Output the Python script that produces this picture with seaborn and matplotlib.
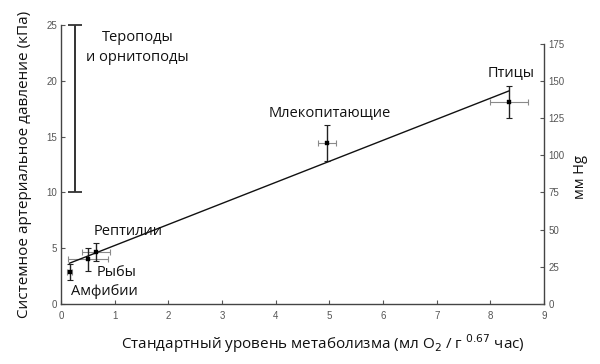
import matplotlib.pyplot as plt
import pandas as pd
import seaborn as sns

# Data (kPa vs metabolic rate)
groups = ["Амфибии", "Рыбы", "Рептилии", "Млекопитающие", "Птицы"]
metab = [0.16, 0.50, 0.66, 4.96, 8.35]
metab_err = [0.05, 0.37, 0.26, 0.17, 0.35]
pressure = [2.85, 4.0, 4.66, 14.4, 18.1]
pressure_err = [0.7, 1.0, 0.8, 1.6, 1.4]

# regression line end points
fit_x = [0.155, 8.35]
fit_y = [3.65, 19.1]

# theropods / ornithopods range
dino_x = 0.26
dino_range = [10, 25]

label_pos = {
    "Амфибии": (0.80, 1.1),
    "Рыбы": (1.04, 2.8),
    "Рептилии": (1.25, 6.5),
    "Млекопитающие": (5.0, 17.1),
    "Птицы": (8.38, 20.7),
}

x_ticks = list(range(0, 10))
y_ticks = [0, 5, 10, 15, 20, 25]
mmhg_ticks = [0, 25, 50, 75, 100, 125, 150, 175]
KPA_PER_MMHG = 0.133322

sns.set_style("ticks")
plt.rcParams["font.family"] = ["Open Sans", "DejaVu Sans"]

df = pd.DataFrame({"group": groups, "x": metab, "y": pressure})
df_fit = pd.DataFrame({"x": fit_x, "y": fit_y})

fig = plt.figure(figsize=(6, 3.64), dpi=100)
ax = fig.add_axes([0.1017, 0.1648, 0.805, 0.7665])

# horizontal error bars (grey) and vertical (black)
ax.errorbar(metab, pressure, xerr=metab_err, fmt="none", ecolor="#8a8a8a",
            elinewidth=0.8, capsize=2, capthick=0.8, clip_on=False)
ax.errorbar(metab, pressure, yerr=pressure_err, fmt="none", ecolor="#222222",
            elinewidth=1.0, capsize=2, capthick=0.8, clip_on=False)
sns.lineplot(data=df_fit, x="x", y="y", ax=ax, color="#111111", linewidth=1.0)
sns.scatterplot(data=df, x="x", y="y", ax=ax, marker="s", s=10, color="black",
                edgecolor="black", zorder=5)

# theropod range bar
ax.errorbar([dino_x], [sum(dino_range) / 2], yerr=[(dino_range[1] - dino_range[0]) / 2],
            fmt="none", ecolor="#333333", elinewidth=1.4, capsize=5, capthick=1.3,
            clip_on=False)
ax.text(1.43, 23.0, "Тероподы\nи орнитоподы", ha="center", va="center",
        fontsize=10.5, linespacing=1.5, color="#111111")

for name in groups:
    px, py = label_pos[name]
    ax.text(px, py, name, ha="center", va="center", fontsize=10.5, color="#111111")

ax.set_xlim(0, 9)
ax.set_ylim(0, 25)
ax.set_xticks(x_ticks)
ax.set_yticks(y_ticks)
ax.tick_params(direction="in", length=3, width=0.8, labelsize=7, labelcolor="#555555",
               colors="#555555", pad=3)
ax.tick_params(axis="x", pad=5)
for s in ["left", "bottom"]:
    ax.spines[s].set_color("#444444")
    ax.spines[s].set_linewidth(1.0)
ax.spines["top"].set_visible(False)
ax.spines["right"].set_visible(False)

ax.set_xlabel("Стандартный уровень метаболизма (мл O$_{2}$ / г $^{0.67}$ час)",
              fontsize=11, labelpad=7, color="#111111")
ax.xaxis.set_label_coords(0.543, -0.1)
ax.xaxis.label.set_va("top")
ax.set_ylabel("Системное артериальное давление (кПа)", fontsize=11,
              labelpad=10, color="#111111")

# right axis in mm Hg
ax2 = ax.twinx()
ax2.set_ylim(0, 25 / KPA_PER_MMHG)
ax2.set_yticks(mmhg_ticks)
ax2.spines["right"].set_bounds(0, 175)
ax2.spines["right"].set_color("#444444")
ax2.spines["right"].set_linewidth(1.0)
for s in ["top", "left", "bottom"]:
    ax2.spines[s].set_visible(False)
ax2.tick_params(direction="in", length=3, width=0.8, labelsize=7, labelcolor="#555555",
                colors="#555555", pad=3)
ax2.set_ylabel("мм Hg", fontsize=10.5, labelpad=6, color="#111111")
ax2.yaxis.set_label_coords(1.06, 0.455)

for label in ax.get_xticklabels() + ax.get_yticklabels() + ax2.get_yticklabels():
    label.set_family(["Liberation Sans", "DejaVu Sans"])

fig.savefig("out.png", dpi=100)
